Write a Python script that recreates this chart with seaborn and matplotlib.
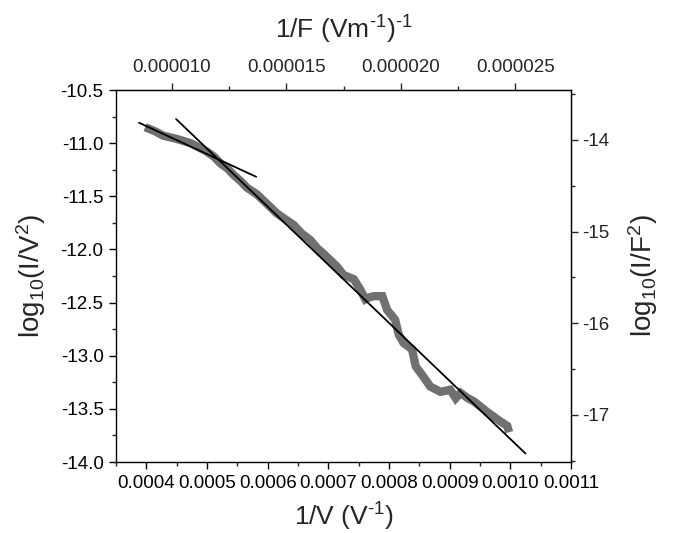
import numpy as np
import pandas as pd
import matplotlib
matplotlib.use("Agg")
import matplotlib.pyplot as plt
import seaborn as sns
from matplotlib.ticker import MultipleLocator, FormatStrFormatter

# ---- data ----
inv_v = [0.000398, 0.000415, 0.000428, 0.000450, 0.000473, 0.000490, 0.000500,
         0.000512, 0.000522, 0.000534, 0.000544, 0.000556, 0.000566, 0.000582,
         0.000595, 0.000615, 0.000630, 0.000643, 0.000656, 0.000670, 0.000682,
         0.000692, 0.000703, 0.000714, 0.000725, 0.000742, 0.000753, 0.000761,
         0.000768, 0.000775, 0.000789, 0.000797, 0.000810, 0.000816, 0.000824,
         0.000838, 0.000844, 0.000857, 0.000868, 0.000885, 0.000901, 0.000910,
         0.000918, 0.000930, 0.000940, 0.000962, 0.000984, 0.000995, 0.000998]
log_iv2 = [-10.85, -10.89, -10.93, -10.96, -11.00, -11.05, -11.08,
           -11.13, -11.19, -11.24, -11.30, -11.36, -11.42, -11.48,
           -11.55, -11.66, -11.72, -11.77, -11.85, -11.91, -11.99,
           -12.04, -12.10, -12.16, -12.24, -12.28, -12.38, -12.47,
           -12.45, -12.44, -12.44, -12.57, -12.66, -12.80, -12.88,
           -12.94, -13.10, -13.20, -13.29, -13.34, -13.32, -13.40,
           -13.35, -13.40, -13.43, -13.53, -13.62, -13.66, -13.72]

fit1_x = [0.000388, 0.000581]
fit1_y = [-10.808, -11.316]
fit2_x = [0.000449, 0.001025]
fit2_y = [-10.773, -13.92]

# conversion to field axes (top / right)
top_a, top_b = 0.02652, -0.00000173
right_c, right_ref = 1.1597, -10.970

sns.set_style("ticks")
plt.rcParams['font.family'] = ['Liberation Sans', 'DejaVu Sans']
plt.rcParams['axes.unicode_minus'] = False
plt.rcParams['mathtext.fontset'] = 'custom'
plt.rcParams['mathtext.rm'] = 'Liberation Sans'
plt.rcParams['mathtext.it'] = 'Liberation Sans'

TICK = 13.5
LAB = 19

fig = plt.figure(figsize=(6.75, 5.33), dpi=100)
ax = fig.add_axes([0.1719, 0.1332, 0.8459 - 0.1719, 0.8311 - 0.1332])

df = pd.DataFrame({"x": inv_v, "y": log_iv2})
sns.lineplot(data=df, x="x", y="y", sort=False, ax=ax, color="#707070",
             linewidth=6.0, solid_joinstyle="miter", solid_capstyle="butt")
sns.lineplot(x=fit1_x, y=fit1_y, ax=ax, color="black", linewidth=1.3)
sns.lineplot(x=fit2_x, y=fit2_y, ax=ax, color="black", linewidth=1.3)

ax.set_xlim(0.00035, 0.0011)
ax.set_ylim(-14.0, -10.5)
ax.xaxis.set_major_locator(MultipleLocator(0.0001))
ax.xaxis.set_minor_locator(MultipleLocator(0.00005))
ax.xaxis.set_major_formatter(FormatStrFormatter('%.4f'))
ax.yaxis.set_major_locator(MultipleLocator(0.5))
ax.yaxis.set_minor_locator(MultipleLocator(0.25))
ax.yaxis.set_major_formatter(FormatStrFormatter('%.1f'))

for s in ax.spines.values():
    s.set_linewidth(1.0)
    s.set_color("black")
ax.tick_params(which='major', direction='out', length=5, width=1, labelsize=TICK,
               colors='black', pad=4)
ax.tick_params(which='minor', direction='out', length=3, width=1)

ax.set_xlabel(r"1/V (V$^{\text{-1}}$)", fontsize=LAB, labelpad=7)
ax.set_ylabel(r"log$_{\text{10}}$(I/V$^{\text{2}}$)", fontsize=LAB + 1, labelpad=9)

top = ax.secondary_xaxis('top', functions=(lambda x: top_a * x + top_b,
                                           lambda f: (f - top_b) / top_a))
top.xaxis.set_major_locator(MultipleLocator(0.000005))
top.xaxis.set_minor_locator(MultipleLocator(0.0000025))
top.xaxis.set_major_formatter(FormatStrFormatter('%.6f'))
top.tick_params(which='major', direction='out', length=5, width=1, labelsize=TICK, pad=5)
top.tick_params(which='minor', direction='out', length=3, width=1)
top.set_xlabel(r"1/F (Vm$^{\text{-1}}$)$^{\text{-1}}$", fontsize=LAB, labelpad=15)

right = ax.secondary_yaxis('right', functions=(lambda y: -14 + right_c * (y - right_ref),
                                               lambda r: (r + 14) / right_c + right_ref))
right.yaxis.set_major_locator(MultipleLocator(1))
right.yaxis.set_minor_locator(MultipleLocator(0.5))
right.yaxis.set_major_formatter(FormatStrFormatter('%d'))
right.tick_params(which='major', direction='out', length=5, width=1, labelsize=TICK, pad=3)
right.tick_params(which='minor', direction='out', length=3, width=1)
right.set_ylabel(r"log$_{\text{10}}$(I/F$^{\text{2}}$)", fontsize=LAB + 1, labelpad=12)

fig.savefig("out.png", dpi=100)
